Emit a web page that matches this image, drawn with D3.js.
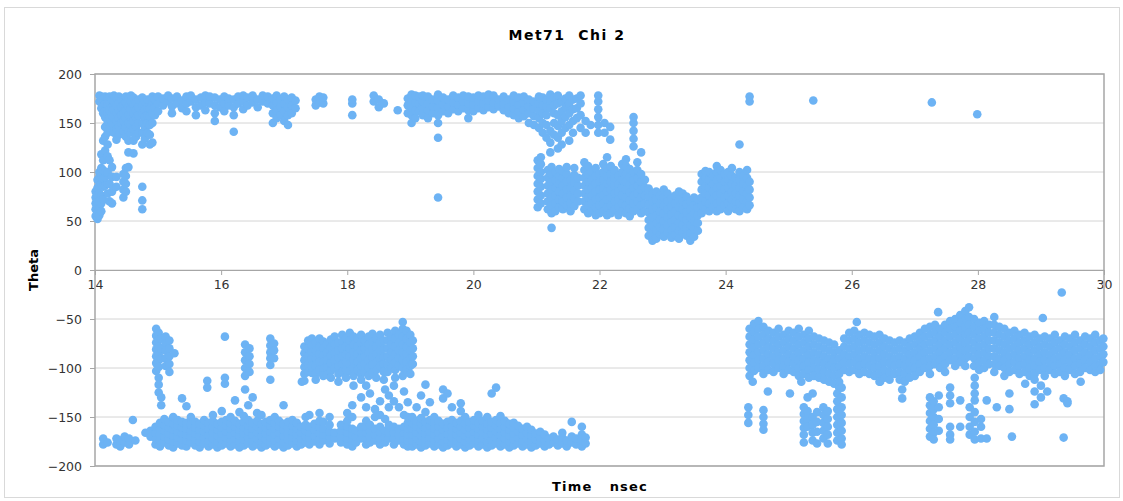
<!DOCTYPE html>
<html>
<head>
<meta charset="utf-8">
<script src="https://cdn.jsdelivr.net/npm/d3@7"></script>
<style>
  body { margin: 0; background: #fff; }
  text { font-family: "DejaVu Sans", Verdana, sans-serif; }
</style>
</head>
<body>
<div id="chart"></div>
<script>
// Met71 Chi 2 dihedral vs time. Each row: [time (nsec), theta values read at that time...]

const xTicks = [14, 16, 18, 20, 22, 24, 26, 28, 30];
const yTicks = [200, 150, 100, 50, 0, -50, -100, -150, -200];

const upperEarly = [
  [14.01, 55, 62, 68, 74, 80],
  [14.04, 52, 58, 65, 71, 77, 84, 92],
  [14.07, 56, 63, 70, 78, 86, 95, 100, 172, 178],
  [14.10, 60, 68, 76, 88, 98, 104, 118, 165, 171, 177],
  [14.13, 72, 85, 93, 102, 112, 132, 160, 167, 174],
  [14.16, 86, 95, 100, 122, 136, 146, 156, 163, 170, 177],
  [14.20, 78, 88, 100, 116, 128, 140, 152, 160, 168, 175],
  [14.23, 70, 88, 112, 145, 155, 163, 171, 177],
  [14.27, 68, 80, 95, 105, 150, 158, 166, 174],
  [14.30, 84, 140, 148, 156, 164, 172, 178],
  [14.34, 85, 95, 133, 144, 152, 160, 168, 176],
  [14.38, 138, 146, 155, 163, 171, 177],
  [14.42, 150, 158, 166, 174],
  [14.45, 74, 82, 90, 98, 142, 152, 160, 168, 175],
  [14.49, 80, 88, 96, 104, 136, 146, 155, 163, 171, 177],
  [14.53, 105, 120, 132, 142, 150, 158, 166, 174],
  [14.57, 140, 148, 156, 164, 172, 178],
  [14.61, 119, 132, 144, 152, 160, 168, 176],
  [14.65, 136, 146, 155, 163, 171],
  [14.69, 140, 150, 158, 166, 174],
  [14.75, 62, 71, 85, 128, 140, 150, 160, 168, 176],
  [14.79, 134, 146, 156, 164, 172],
  [14.83, 140, 150, 158, 166, 174],
  [14.87, 128, 138, 148, 157, 165, 173],
  [14.91, 130, 150, 160, 170, 177],
  [14.95, 158, 166, 174]
];

const upperPlateau = [
  [15.00, 162, 170, 177], [15.08, 168, 175], [15.16, 172, 178], [15.22, 160, 167, 175],
  [15.30, 170, 177], [15.38, 165, 173], [15.45, 162, 170, 177], [15.52, 172, 178],
  [15.60, 158, 166, 174], [15.68, 168, 176], [15.75, 163, 171, 178], [15.82, 170, 177],
  [15.90, 152, 160, 168, 176], [15.98, 166, 174], [16.05, 162, 170, 177], [16.12, 168, 175],
  [16.20, 141, 158, 166, 174], [16.27, 170, 177], [16.35, 164, 172, 178], [16.42, 168, 176],
  [16.50, 171, 178], [16.58, 166, 174], [16.66, 172, 178], [16.74, 170, 177],
  [16.82, 150, 160, 168, 175], [16.88, 155, 163, 171, 178], [16.94, 158, 166, 174],
  [17.00, 152, 162, 170, 177], [17.06, 148, 158, 166, 174], [17.12, 160, 168, 176],
  [17.18, 165, 173], [17.50, 168, 174], [17.56, 171, 177], [17.62, 170, 176],
  [18.08, 158, 170, 174], [18.42, 172, 178], [18.50, 166, 174], [18.58, 170], [18.80, 163],
  [18.96, 160, 168, 175], [19.02, 150, 158, 166, 173, 179], [19.08, 155, 163, 171, 178],
  [19.14, 162, 170, 177], [19.20, 158, 165, 172, 178], [19.28, 155, 163, 170, 177],
  [19.36, 160, 167, 174], [19.44, 74, 135, 150, 158, 166, 173, 179], [19.52, 162, 169, 176],
  [19.60, 160, 167, 174], [19.68, 164, 171, 178], [19.76, 162, 169, 176],
  [19.84, 165, 172, 178], [19.92, 155, 163, 170, 177], [20.00, 162, 169, 176],
  [20.08, 165, 172, 178], [20.16, 163, 170, 177], [20.24, 166, 173, 179],
  [20.32, 164, 171, 178], [20.40, 167, 174], [20.48, 163, 170, 177], [20.56, 160, 167, 174],
  [20.64, 158, 165, 172, 178], [20.72, 155, 162, 169, 176], [20.80, 157, 164, 171, 177],
  [20.88, 150, 160, 167, 174], [20.96, 148, 157, 165, 172], [21.04, 145, 155, 163, 170, 177],
  [21.10, 140, 150, 160, 168, 176], [21.16, 135, 148, 158, 166, 174],
  [21.22, 120, 130, 142, 165, 173, 179], [21.28, 138, 150, 160, 168, 176],
  [21.34, 124, 135, 147, 158, 170, 178], [21.40, 128, 140, 152, 162, 172],
  [21.46, 145, 156, 166, 175], [21.52, 132, 148, 160, 170, 178], [21.58, 140, 152, 164, 174],
  [21.64, 155, 165, 175], [21.70, 145, 158, 170, 178], [21.78, 140, 152], [21.86, 148],
  [21.98, 140, 148, 156, 164, 172, 178], [22.08, 140, 150], [22.17, 133, 146]
];

const midBlobs = [
  [21.02, 64, 72, 80, 88, 96, 104, 112], [21.07, 68, 76, 85, 93, 100, 108, 115],
  [21.18, 62, 70, 78, 86, 94, 102], [21.24, 43, 58, 66, 74, 82, 90, 98, 105],
  [21.30, 60, 68, 76, 84, 92, 100], [21.36, 64, 72, 80, 88, 96, 103],
  [21.42, 62, 70, 78, 86, 94, 101], [21.48, 66, 74, 82, 90, 98, 105],
  [21.54, 60, 68, 76, 84, 92], [21.60, 65, 73, 81, 89, 97, 104], [21.66, 70, 78, 86, 94],
  [21.76, 62, 70, 78, 86, 94, 102, 110], [21.82, 58, 66, 74, 82, 90, 98, 106],
  [21.88, 60, 68, 76, 84, 92, 100], [21.94, 56, 64, 72, 80, 88, 96, 104],
  [22.00, 58, 66, 74, 82, 90, 98], [22.06, 60, 68, 76, 84, 92, 100, 108],
  [22.12, 56, 64, 72, 80, 88, 96, 104, 115], [22.18, 58, 66, 74, 82, 90, 98, 106],
  [22.24, 62, 70, 78, 86, 94, 102], [22.30, 56, 64, 72, 80, 88, 96],
  [22.36, 60, 68, 76, 84, 92, 100, 108], [22.42, 58, 66, 74, 82, 90, 98, 106, 113],
  [22.48, 55, 63, 71, 79, 87, 95, 103], [22.54, 60, 68, 76, 84, 92, 100, 126, 134, 142, 150, 156],
  [22.60, 62, 70, 78, 86, 94, 102, 110], [22.66, 58, 66, 74, 82, 90, 98, 120],
  [22.72, 60, 68, 76, 84, 92], [22.78, 35, 43, 51, 59, 67, 75, 83],
  [22.84, 30, 38, 46, 54, 62, 70, 78], [22.90, 32, 40, 48, 56, 64, 72, 80],
  [22.96, 36, 44, 52, 60, 68, 76], [23.02, 34, 42, 50, 58, 66, 74, 82],
  [23.08, 38, 46, 54, 62, 70, 78], [23.14, 33, 41, 49, 57, 65, 73],
  [23.20, 36, 44, 52, 60, 68, 76], [23.26, 32, 40, 48, 56, 64, 72, 80],
  [23.32, 38, 46, 54, 62, 70, 78], [23.38, 35, 43, 51, 59, 67, 75],
  [23.44, 30, 38, 46, 54, 62, 70], [23.50, 34, 42, 50, 58, 66, 74], [23.56, 40, 48, 56, 64, 72],
  [23.62, 58, 66, 74, 82, 90, 98], [23.68, 62, 70, 78, 86, 94, 101],
  [23.74, 60, 68, 76, 84, 92, 100], [23.80, 64, 72, 80, 88, 96],
  [23.86, 60, 68, 76, 84, 92, 100, 106], [23.92, 62, 70, 78, 86, 94, 102],
  [23.98, 66, 74, 82, 90, 98], [24.04, 60, 68, 76, 84, 92, 100],
  [24.10, 64, 72, 80, 88, 96, 104], [24.16, 62, 70, 78, 86, 94],
  [24.22, 60, 68, 76, 84, 92, 100, 128], [24.28, 64, 72, 80, 88, 96],
  [24.34, 62, 70, 78, 86, 94, 102], [24.38, 66, 74, 82, 90, 172, 177]
];

const upperSparse = [[25.39, 173], [27.27, 171], [27.99, 159]];

const lowerEarly = [
  [14.13, -178, -172], [14.20, -176], [14.34, -178, -172], [14.40, -180, -174],
  [14.47, -176, -170], [14.54, -178, -172], [14.60, -153], [14.64, -174],
  [14.80, -166], [14.88, -164, -170],
  [14.97, -60, -67, -74, -81, -88, -95, -103], [15.01, -64, -71, -78, -85, -92, -99, -110, -117, -125],
  [15.05, -70, -80, -90, -130, -138], [15.12, -68, -75, -82, -90, -98],
  [15.18, -72, -80, -88, -96, -104], [15.26, -85], [15.78, -113, -120],
  [16.06, -68, -110, -116], [16.38, -76, -84, -92, -100, -108, -122],
  [16.45, -80, -88, -96, -104], [16.78, -70, -77, -84, -90, -97, -112],
  [16.84, -75, -82, -90], [17.28, -114]
];

const lowerBand = [
  [14.96, -178, -172, -166, -160], [15.03, -180, -174, -168, -162, -156],
  [15.10, -176, -170, -164, -158, -152], [15.17, -179, -173, -167, -161, -155],
  [15.24, -181, -175, -169, -163, -157, -150], [15.31, -177, -171, -165, -159, -153],
  [15.38, -179, -173, -167, -161, -155, -131], [15.45, -180, -174, -168, -162, -156, -139],
  [15.52, -176, -170, -164, -158, -150], [15.59, -179, -173, -167, -161, -155],
  [15.66, -181, -175, -169, -163, -157], [15.73, -177, -171, -165, -159, -153],
  [15.80, -180, -174, -168, -162, -156], [15.87, -178, -172, -166, -160, -154, -148],
  [15.94, -181, -175, -169, -163, -157], [16.01, -179, -173, -167, -161, -155, -144],
  [16.08, -177, -171, -165, -159, -153], [16.15, -180, -174, -168, -162, -156, -150],
  [16.22, -178, -172, -166, -160, -154, -133], [16.29, -181, -175, -169, -163, -157, -145],
  [16.36, -179, -173, -167, -161, -155, -149], [16.43, -177, -171, -165, -159, -153, -138],
  [16.50, -180, -174, -168, -162, -156, -130], [16.57, -178, -172, -166, -160, -154, -146],
  [16.64, -181, -175, -169, -163, -157, -148], [16.71, -179, -173, -167, -161, -155],
  [16.78, -177, -171, -165, -159, -153], [16.85, -180, -174, -168, -162, -156, -150],
  [16.92, -178, -172, -166, -160, -154], [16.99, -181, -175, -169, -163, -157, -138],
  [17.06, -179, -173, -167, -161, -155], [17.13, -177, -171, -165, -159, -153],
  [17.20, -180, -174, -168, -162, -156], [17.27, -178, -172, -166, -160],
  [17.34, -176, -170, -164, -158, -150], [17.40, -178, -172, -166, -160, -148],
  [17.48, -175, -169, -163, -157], [17.56, -178, -172, -166, -160, -154, -146],
  [17.62, -174, -168, -162, -155], [17.72, -177, -171, -165, -158, -150],
  [17.80, -172, -166], [17.90, -176, -170, -164, -158],
  [18.00, -178, -172, -166, -160, -154, -146], [18.08, -180, -174, -168, -162, -150, -138],
  [18.14, -176, -170, -164], [18.22, -172, -166, -160, -130],
  [18.30, -178, -172, -166, -160, -154, -140, -118], [18.36, -176, -170, -164, -158, -126],
  [18.44, -174, -168, -162, -150, -142], [18.52, -178, -172, -166, -160, -148, -134],
  [18.60, -176, -170, -164, -152, -122], [18.66, -172, -166, -158, -140, -128],
  [18.74, -178, -172, -166, -160, -134, -118], [18.82, -174, -168, -162, -140],
  [18.90, -178, -172, -166, -160, -148, -124], [18.96, -180, -174, -168, -162, -156, -150, -135],
  [19.03, -180, -174, -168, -162, -156, -150], [19.10, -178, -172, -166, -160, -154, -140],
  [19.17, -181, -175, -169, -163, -157, -151, -128], [19.24, -179, -173, -167, -161, -155, -145, -117],
  [19.31, -177, -171, -165, -159, -153, -135], [19.38, -180, -174, -168, -162, -156, -150],
  [19.45, -178, -172, -166, -160, -154], [19.52, -181, -175, -169, -163, -157, -131, -122],
  [19.59, -179, -173, -167, -161, -155, -126], [19.66, -177, -171, -165, -159, -153, -140],
  [19.73, -180, -174, -168, -162, -156], [19.80, -178, -172, -166, -160, -154, -144, -136],
  [19.87, -181, -175, -169, -163, -157, -150], [19.94, -179, -173, -167, -161, -155],
  [20.01, -177, -171, -165, -159, -153], [20.08, -180, -174, -168, -162, -156, -148],
  [20.15, -178, -172, -166, -160, -154], [20.22, -181, -175, -169, -163, -157, -150],
  [20.29, -179, -173, -167, -161, -155, -126], [20.36, -177, -171, -165, -159, -153, -120],
  [20.43, -180, -174, -168, -162, -156, -149], [20.50, -178, -172, -166, -160, -154],
  [20.57, -181, -175, -169, -163, -157], [20.64, -179, -173, -167, -161, -156],
  [20.71, -177, -171, -165, -159], [20.78, -180, -174, -168, -162],
  [20.85, -178, -172, -166, -160], [20.92, -181, -175, -169, -163],
  [20.99, -179, -173, -167], [21.06, -177, -171, -165], [21.13, -180, -174, -168],
  [21.20, -178, -172], [21.27, -176, -170], [21.34, -179, -173], [21.41, -177, -171, -166],
  [21.48, -180, -174], [21.56, -176, -170, -155], [21.63, -178, -172],
  [21.72, -180, -174, -168, -160], [21.78, -177, -171]
];

const lowerCluster = [
  [17.32, -78, -85, -92, -99, -106, -113], [17.38, -72, -80, -88, -96, -104],
  [17.44, -70, -77, -84, -91, -98, -105], [17.50, -74, -82, -90, -98, -106, -112],
  [17.56, -70, -78, -86, -94, -102], [17.62, -73, -80, -87, -94, -101, -108],
  [17.68, -76, -84, -92, -100, -107], [17.74, -71, -79, -87, -95, -103, -110],
  [17.80, -68, -76, -84, -92, -100], [17.86, -74, -82, -90, -98, -106, -114],
  [17.92, -66, -73, -80, -88, -96, -104], [17.98, -70, -78, -86, -94, -102, -110],
  [18.04, -64, -72, -80, -88, -96, -103], [18.10, -68, -76, -84, -92, -100, -108, -118],
  [18.16, -70, -78, -86, -94, -102], [18.22, -66, -74, -82, -90, -98, -106, -112],
  [18.28, -72, -80, -88, -96, -104], [18.34, -68, -76, -84, -92, -100, -108],
  [18.40, -65, -73, -81, -89, -97, -105], [18.46, -70, -78, -86, -94, -102, -110],
  [18.52, -66, -74, -82, -90, -98], [18.58, -72, -80, -88, -96, -104, -112],
  [18.64, -64, -72, -80, -88, -96, -104], [18.70, -68, -76, -84, -92, -100],
  [18.76, -62, -70, -78, -86, -94, -102, -110], [18.82, -66, -74, -82, -90, -98],
  [18.88, -53, -60, -68, -76, -84, -92, -100, -108], [18.94, -62, -70, -78, -86, -94, -102],
  [19.00, -66, -74, -82, -90, -98, -106], [19.04, -72, -80, -88, -96]
];

const lateBand = [
  [24.38, -60, -68, -76, -84, -92, -100, -108], [24.45, -55, -63, -71, -79, -87, -95, -103],
  [24.52, -52, -60, -68, -76, -84, -92, -100], [24.60, -58, -66, -74, -82, -90, -98, -106],
  [24.68, -62, -70, -78, -86, -94, -102], [24.76, -64, -72, -80, -88, -96, -104],
  [24.84, -60, -68, -76, -84, -92, -100], [24.92, -66, -74, -82, -90, -98, -106],
  [25.00, -62, -70, -78, -86, -94, -102], [25.08, -64, -72, -80, -88, -96, -104],
  [25.16, -60, -68, -76, -84, -92, -100, -108], [25.24, -66, -74, -82, -90, -98, -106],
  [25.32, -62, -70, -78, -86, -94, -102, -110], [25.40, -68, -76, -84, -92, -100, -108],
  [25.48, -70, -78, -86, -94, -102, -110], [25.56, -72, -80, -88, -96, -104, -112],
  [25.64, -74, -82, -90, -98, -106, -114], [25.72, -76, -84, -92, -100, -108, -116],
  [25.80, -82, -90, -98, -106, -114, -120], [25.88, -70, -78, -86, -94, -102],
  [25.96, -64, -72, -80, -88, -96, -104], [26.04, -62, -70, -78, -86, -94, -102],
  [26.08, -53], [26.12, -66, -74, -82, -90, -98, -106],
  [26.20, -64, -72, -80, -88, -96, -104], [26.28, -66, -74, -82, -90, -98, -106],
  [26.36, -68, -76, -84, -92, -100, -108], [26.44, -66, -74, -82, -90, -98, -106, -114],
  [26.52, -70, -78, -86, -94, -102, -110], [26.60, -72, -80, -88, -96, -104, -112],
  [26.68, -74, -82, -90, -98, -106], [26.76, -72, -80, -88, -96, -104, -112],
  [26.84, -74, -82, -90, -98, -106, -114], [26.92, -70, -78, -86, -94, -102, -110],
  [27.00, -68, -76, -84, -92, -100, -108], [27.08, -64, -72, -80, -88, -96, -104],
  [27.16, -60, -68, -76, -84, -92, -100], [27.24, -58, -66, -74, -82, -90, -98, -106],
  [27.32, -56, -64, -72, -80, -88, -96], [27.37, -43],
  [27.40, -60, -68, -76, -84, -92, -100], [27.48, -56, -64, -72, -80, -88, -96, -104],
  [27.56, -52, -60, -68, -76, -84, -92], [27.64, -50, -58, -66, -74, -82, -90, -98],
  [27.72, -46, -54, -62, -70, -78, -86, -94], [27.80, -42, -50, -58, -66, -74, -82, -90, -98],
  [27.86, -38, -48, -56, -64, -72, -80, -88], [27.94, -50, -58, -66, -74, -82, -90, -98],
  [28.02, -54, -62, -70, -78, -86, -94, -102], [28.10, -52, -60, -68, -76, -84, -92, -100],
  [28.18, -56, -64, -72, -80, -88, -96], [28.26, -48, -56, -64, -72, -80, -88, -96, -104],
  [28.34, -58, -66, -74, -82, -90, -98], [28.42, -60, -68, -76, -84, -92, -100, -108],
  [28.50, -64, -72, -80, -88, -96, -104], [28.58, -62, -70, -78, -86, -94, -102],
  [28.66, -66, -74, -82, -90, -98, -106], [28.74, -64, -72, -80, -88, -96, -104],
  [28.82, -68, -76, -84, -92, -100, -108], [28.90, -66, -74, -82, -90, -98, -106],
  [28.98, -70, -78, -86, -94, -102], [29.03, -49],
  [29.06, -68, -76, -84, -92, -100, -108], [29.14, -70, -78, -86, -94, -102],
  [29.22, -66, -74, -82, -90, -98, -106], [29.30, -72, -80, -88, -96, -104], [29.33, -23],
  [29.38, -68, -76, -84, -92, -100, -108], [29.46, -70, -78, -86, -94, -102],
  [29.54, -66, -74, -82, -90, -98, -106], [29.62, -72, -80, -88, -96, -104],
  [29.70, -68, -76, -84, -92, -100], [29.78, -70, -78, -86, -94, -102],
  [29.86, -66, -74, -82, -90, -98, -104], [29.94, -72, -80, -88, -96, -102],
  [29.99, -70, -78, -86, -94]
];

const lateTail = [
  [24.36, -140, -148, -156], [24.43, -114], [24.60, -143, -150, -157, -163], [24.67, -124],
  [25.02, -126], [25.20, -114], [25.24, -140, -147, -154, -161, -168, -176],
  [25.30, -130, -144, -152, -160], [25.38, -126, -150, -158, -166, -174],
  [25.45, -145, -155, -165, -177], [25.55, -140, -148, -156, -164, -172],
  [25.62, -144, -152, -160, -168, -177], [25.77, -126, -134, -142, -150, -158, -166, -174],
  [25.84, -120, -130, -140, -148, -156, -164, -172, -178], [26.45, -114], [26.80, -122, -131],
  [27.24, -130, -138, -146, -154, -162, -170], [27.30, -134, -142, -150, -158, -166, -173],
  [27.38, -128, -140, -152, -164], [27.56, -120, -128, -136, -160, -168, -173],
  [27.72, -133, -160], [27.87, -140, -150, -160, -168],
  [27.95, -110, -118, -126, -133, -145, -155, -165, -173], [28.05, -152, -160, -172],
  [28.14, -133, -172], [28.30, -140], [28.50, -126, -142], [28.54, -170], [28.75, -116],
  [28.90, -112, -124, -137], [29.00, -118, -130], [29.10, -124], [29.36, -131, -171],
  [29.42, -134, -136], [29.63, -114]
];

const series = [upperEarly, upperPlateau, midBlobs, upperSparse, lowerEarly, lowerBand, lowerCluster, lateBand, lateTail];
const points = series.flat().flatMap(([t, ...vals]) => vals.map(v => ({ t, v })));

const width = 1123, height = 501;
const margin = { left: 95, right: 19, top: 74, bottom: 35 };

const svg = d3.select("#chart").append("svg")
  .attr("width", width)
  .attr("height", height);

// soft edge like the original marker rendering
svg.append("defs").append("filter")
  .attr("id", "soft")
  .append("feGaussianBlur")
  .attr("stdDeviation", 0.45);

// outer chart frame
svg.append("rect")
  .attr("x", 4.5).attr("y", 7.5)
  .attr("width", 1115).attr("height", 490)
  .attr("fill", "#fff")
  .attr("stroke", "#d9d9d9");

const x = d3.scaleLinear().domain([14, 30]).range([margin.left, width - margin.right]);
const y = d3.scaleLinear().domain([-200, 200]).range([height - margin.bottom, margin.top]);

// gridlines
svg.append("g")
  .selectAll("line")
  .data(yTicks)
  .enter().append("line")
  .attr("x1", x(14)).attr("x2", x(30))
  .attr("y1", d => y(d)).attr("y2", d => y(d))
  .attr("stroke", "#d4d4d4")
  .attr("stroke-width", 1);

// y axis
const yAxis = svg.append("g")
  .attr("transform", `translate(${x(14)},0)`)
  .call(d3.axisLeft(y).tickValues(yTicks).tickSize(5).tickPadding(8));
yAxis.select(".domain").remove();
yAxis.selectAll("line").attr("stroke", "#a6a6a6");
yAxis.selectAll("text").attr("font-size", "12.5px").attr("fill", "#333");

// x axis on zero line
const xAxis = svg.append("g")
  .attr("transform", `translate(0,${y(0)})`)
  .call(d3.axisBottom(x).tickValues(xTicks).tickSize(5).tickPadding(5));
xAxis.select(".domain").attr("stroke", "#a6a6a6");
xAxis.selectAll("line").attr("stroke", "#a6a6a6");
xAxis.selectAll("text").attr("font-size", "12.5px").attr("fill", "#333");

// plot frame
svg.append("rect")
  .attr("x", x(14)).attr("y", y(200))
  .attr("width", x(30) - x(14)).attr("height", y(-200) - y(200))
  .attr("fill", "none")
  .attr("stroke", "#a6a6a6")
  .attr("stroke-width", 1.5);

// points
svg.append("g")
  .attr("filter", "url(#soft)")
  .selectAll("circle")
  .data(points)
  .enter().append("circle")
  .attr("cx", d => x(d.t))
  .attr("cy", d => y(d.v))
  .attr("r", 4.3)
  .attr("fill", "#6db3f4");

// titles
svg.append("text")
  .attr("x", 567).attr("y", 40)
  .attr("text-anchor", "middle")
  .attr("font-size", "14px").attr("font-weight", "bold")
  .attr("letter-spacing", "1.5px")
  .attr("xml:space", "preserve")
  .text("Met71  Chi 2");

svg.append("text")
  .attr("transform", `translate(38,${y(0)}) rotate(-90)`)
  .attr("text-anchor", "middle")
  .attr("font-size", "13px").attr("font-weight", "bold")
  .text("Theta");

svg.append("text")
  .attr("x", 600).attr("y", 491)
  .attr("text-anchor", "middle")
  .attr("font-size", "13px").attr("font-weight", "bold")
  .attr("letter-spacing", "1.2px")
  .attr("xml:space", "preserve")
  .text("Time   nsec");
</script>
</body>
</html>
